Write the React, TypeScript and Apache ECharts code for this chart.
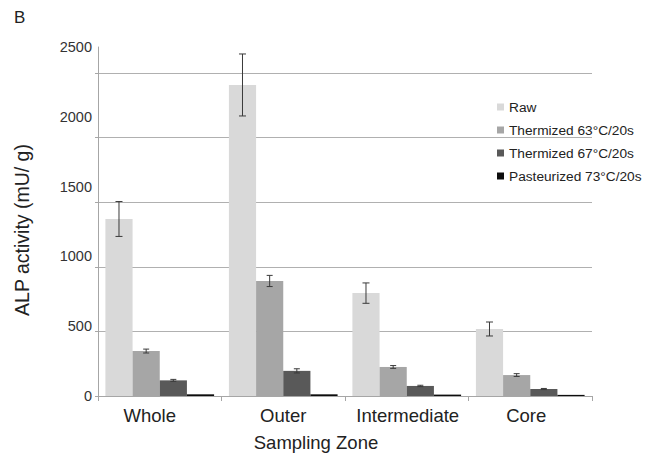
import React, { useEffect, useRef } from "react";
import * as echarts from "echarts";

const categories = ["Whole", "Outer", "Intermediate", "Core"];
const seriesNames = [
  "Raw",
  "Thermized 63°C/20s",
  "Thermized 67°C/20s",
  "Pasteurized 73°C/20s",
];
const rawValues = [1268, 2228, 737, 480];
const rawErrors = [125, 222, 73, 50];
const therm63Values = [322, 824, 208, 150];
const therm63Errors = [14, 40, 10, 10];
const therm67Values = [112, 180, 72, 50];
const therm67Errors = [7, 15, 5, 4];
const pastValues = [12, 12, 10, 8];
const pastErrors = [0, 0, 0, 0];
const yTicks = [0, 500, 1000, 1500, 2000, 2500];
const yTitle = "ALP activity (mU/ g)";
const xTitle = "Sampling Zone";

// layout: horizontal nudges of the category labels (px)
const labelShift = [-10, 0, 1, -4];

const colors = ["#d9d9d9", "#a6a6a6", "#595959", "#0d0d0d"];
const FONT = "Liberation Sans, Arial, sans-serif";
const GAP = 0.12;

export default function App() {
  const ref = useRef<HTMLDivElement>(null);
  useEffect(() => {
    if (!ref.current) return;
    const chart = echarts.init(ref.current, null, { renderer: "svg" });
    const values = [rawValues, therm63Values, therm67Values, pastValues];
    const errors = [rawErrors, therm63Errors, therm67Errors, pastErrors];
    const errData: number[][] = [];
    values.forEach((vals, s) => {
      vals.forEach((v, c) => {
        if (errors[s][c] > 0) errData.push([c, v, errors[s][c], s]);
      });
    });
    const rich: Record<string, any> = {};
    categories.forEach((_, i) => {
      const d = labelShift[i];
      rich["c" + i] = {
        fontSize: 18.5,
        color: "#222",
        fontFamily: FONT,
        padding: [0, d < 0 ? -2 * d : 0, 0, d > 0 ? 2 * d : 0],
      };
    });
    const gridBox = { left: 98, right: 59, bottom: 58 };
    chart.setOption({
      animation: false,
      textStyle: { fontFamily: FONT },
      graphic: [
        {
          type: "text",
          left: 14,
          top: 9,
          style: { text: "B", fontSize: 17, fontFamily: FONT, fill: "#222" },
        },
        {
          type: "text",
          x: 22,
          y: 230,
          rotation: Math.PI / 2,
          style: {
            text: yTitle,
            fontSize: 19.5,
            fontFamily: FONT,
            fill: "#222",
            align: "center",
            verticalAlign: "middle",
          },
        },
        {
          type: "text",
          x: 316,
          y: 442,
          style: {
            text: xTitle,
            fontSize: 18.5,
            fontFamily: FONT,
            fill: "#222",
            align: "center",
            verticalAlign: "middle",
          },
        },
      ],
      legend: {
        orient: "vertical",
        left: 492,
        top: 95,
        itemWidth: 7,
        itemHeight: 7,
        itemGap: 9,
        icon: "rect",
        textStyle: { fontSize: 13.7, color: "#222", fontFamily: FONT },
        data: seriesNames,
      },
      grid: [
        { ...gridBox, top: 47 },
        { ...gridBox, top: 73 },
      ],
      xAxis: [
        {
          type: "category",
          gridIndex: 0,
          data: categories,
          axisLine: { lineStyle: { color: "#a6a6a6" } },
          axisTick: { show: true, length: 5, lineStyle: { color: "#a6a6a6" } },
          axisLabel: {
            margin: 10,
            formatter: (v: string) => "{c" + categories.indexOf(v) + "|" + v + "}",
            rich,
          },
        },
        {
          type: "value",
          gridIndex: 1,
          show: false,
          min: 0,
          max: 1,
        },
      ],
      yAxis: [
        {
          type: "value",
          gridIndex: 0,
          min: yTicks[0],
          max: yTicks[yTicks.length - 1],
          interval: 500,
          axisLine: { show: true, lineStyle: { color: "#a6a6a6" } },
          axisTick: { show: false },
          splitLine: { show: false },
          axisLabel: {
            fontSize: 14.5,
            color: "#333",
            margin: 6,
            fontFamily: FONT,
            formatter: (v: number) => String(v),
          },
        },
        {
          type: "value",
          gridIndex: 1,
          min: 0,
          max: 2500,
          interval: 500,
          axisLine: { show: false },
          axisTick: { show: true, length: 3, lineStyle: { color: "#a6a6a6" } },
          axisLabel: { show: false },
          splitLine: { show: true, lineStyle: { color: "#b0b0b0", width: 1 } },
        },
      ],
      series: [
        ...values.map((vals, s) => ({
          type: "bar",
          name: seriesNames[s],
          xAxisIndex: 0,
          yAxisIndex: 0,
          data: vals,
          barGap: "0%",
          barCategoryGap: GAP * 100 + "%",
          itemStyle: { color: colors[s] },
          z: 3,
        })),
        {
          type: "custom",
          xAxisIndex: 0,
          yAxisIndex: 0,
          z: 5,
          data: errData,
          encode: { x: 0, y: 1 },
          renderItem: (params: any, api: any) => {
            const c = api.value(0);
            const v = api.value(1);
            const e = api.value(2);
            const s = api.value(3);
            const catW = api.size([1, 0])[0];
            const groupW = catW * (1 - GAP);
            const barW = groupW / 4;
            const center = api.coord([c, v]);
            const x = center[0] - groupW / 2 + barW * (s + 0.5);
            const yTop = api.coord([c, v + e])[1];
            const yBot = api.coord([c, v - e])[1];
            const cap = s === 0 ? 3.5 : 3;
            const style = { stroke: "#3a3a3a", lineWidth: 1 };
            return {
              type: "group",
              children: [
                { type: "line", shape: { x1: x, y1: yTop, x2: x, y2: yBot }, style },
                { type: "line", shape: { x1: x - cap, y1: yTop, x2: x + cap, y2: yTop }, style },
                { type: "line", shape: { x1: x - cap, y1: yBot, x2: x + cap, y2: yBot }, style },
              ],
            };
          },
        },
      ],
    });
    return () => chart.dispose();
  }, []);
  return (
    <div
      ref={ref}
      style={{ position: "fixed", left: 0, top: 0, width: 651, height: 454, background: "#fff" }}
    />
  );
}
